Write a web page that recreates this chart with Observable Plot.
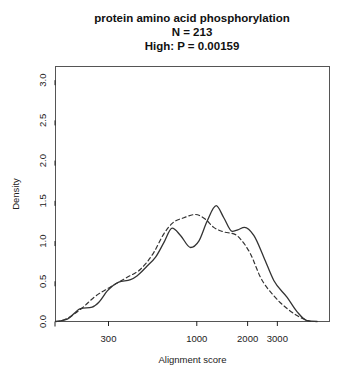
<!DOCTYPE html>
<html>
<head>
<meta charset="utf-8">
<script src="https://cdn.jsdelivr.net/npm/d3@7"></script>
<script src="https://cdn.jsdelivr.net/npm/@observablehq/plot@0.6"></script>
<style>
  body { margin: 0; background: #ffffff; font-family: "Liberation Sans", Arial, sans-serif; }
  #title { width: 308px; padding-left: 38px; padding-top: 11px; height: 45px; text-align: center;
           font-weight: bold; font-size: 11.5px; line-height: 14px; color: #111; }
</style>
</head>
<body>
<div id="title">
  <div>protein amino acid phosphorylation</div>
  <div>N = 213</div>
  <div>High: P = 0.00159</div>
</div>
<div id="chart"></div>
<script>
const solidX = [146, 158, 171, 205, 240, 263, 295, 345, 405, 444, 508, 570, 638, 715, 801, 918, 1028, 1152, 1303, 1445, 1621, 1749, 1916, 2176, 2493, 2858, 3429, 3930, 4504, 5162];
const solidY = [0, 0.01, 0.03, 0.16, 0.18, 0.24, 0.38, 0.49, 0.52, 0.57, 0.69, 0.80, 0.98, 1.16, 1.07, 0.92, 1.00, 1.25, 1.44, 1.29, 1.12, 1.14, 1.17, 1.07, 0.80, 0.51, 0.30, 0.12, 0.01, 0];
const dashedX = [146, 158, 171, 210, 246, 308, 387, 464, 557, 638, 715, 838, 982, 1126, 1260, 1414, 1695, 1857, 2080, 2383, 2858, 3429, 4111, 4712];
const dashedY = [0, 0.01, 0.04, 0.17, 0.30, 0.43, 0.55, 0.65, 0.86, 1.09, 1.22, 1.29, 1.33, 1.27, 1.17, 1.12, 1.08, 1.00, 0.84, 0.55, 0.32, 0.16, 0.05, 0];
const xTicks = [300, 1000, 2000, 3000];
const yTicks = [0, 0.5, 1.0, 1.5, 2.0, 2.5, 3.0];

const solid = solidX.map((x, i) => ({x, y: solidY[i]}));
const dashed = dashedX.map((x, i) => ({x, y: dashedY[i]}));

const chart = Plot.plot({
  width: 346,
  height: 320,
  marginTop: 10,
  marginBottom: 55,
  marginLeft: 55,
  marginRight: 17,
  style: {fontFamily: "Liberation Sans, Arial, sans-serif", fontSize: "9.5px", color: "#222", background: "#ffffff"},
  x: {type: "log", domain: [145.6, 6109]},
  y: {domain: [0, 3.17]},
  marks: [
    Plot.frame({stroke: "#555"}),
    Plot.axisX({ticks: xTicks, tickFormat: d => String(d), tickSize: 5, tickPadding: 9,
                label: "Alignment score", labelAnchor: "center", labelArrow: "none", labelOffset: 41}),
    Plot.axisY({ticks: yTicks, tickFormat: d => d.toFixed(1), tickSize: 5, tickPadding: 8,
                rotate: -90, textAnchor: "middle",
                label: "Density", labelAnchor: "center", labelArrow: "none", labelOffset: 43}),
    Plot.line(solid, {x: "x", y: "y", curve: "monotone-x", stroke: "#333", strokeWidth: 1.3}),
    Plot.line(dashed, {x: "x", y: "y", curve: "monotone-x", stroke: "#333", strokeWidth: 1.2, strokeDasharray: "4,3"})
  ]
});
document.getElementById("chart").appendChild(chart);
</script>
</body>
</html>
